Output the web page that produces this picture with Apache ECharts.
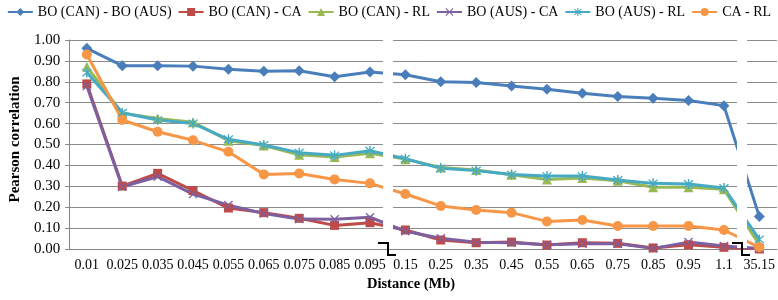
<!DOCTYPE html>
<html>
<head>
<meta charset="utf-8">
<script src="https://cdn.jsdelivr.net/npm/echarts@6/dist/echarts.min.js"></script>
<style>
  body { margin: 0; background: #fff; }
  #chart { width: 778px; height: 300px; }
</style>
</head>
<body>
<div id="chart"></div>
<script>
// x categories (Mb)
var distances = ["0.01", "0.025", "0.035", "0.045", "0.055", "0.065", "0.075", "0.085", "0.095",
  "0.15", "0.25", "0.35", "0.45", "0.55", "0.65", "0.75", "0.85", "0.95", "1.1", "35.15"];

var boCanBoAus = [0.96, 0.877, 0.877, 0.875, 0.86, 0.85, 0.853, 0.824, 0.847,
  0.834, 0.80, 0.797, 0.78, 0.764, 0.745, 0.73, 0.721, 0.71, 0.686, 0.155];
var boCanCa = [0.79, 0.301, 0.362, 0.28, 0.196, 0.174, 0.147, 0.113, 0.126,
  0.091, 0.043, 0.03, 0.033, 0.019, 0.03, 0.027, 0.005, 0.02, 0.008, 0.0];
var boCanRl = [0.872, 0.65, 0.625, 0.607, 0.518, 0.495, 0.451, 0.44, 0.458,
  0.43, 0.39, 0.378, 0.355, 0.333, 0.34, 0.327, 0.295, 0.295, 0.286, 0.02];
var boAusCa = [0.78, 0.298, 0.346, 0.263, 0.21, 0.17, 0.143, 0.142, 0.152,
  0.085, 0.051, 0.032, 0.03, 0.02, 0.025, 0.025, 0.003, 0.033, 0.014, 0.003];
var boAusRl = [0.844, 0.652, 0.617, 0.601, 0.525, 0.498, 0.461, 0.448, 0.47,
  0.432, 0.386, 0.375, 0.356, 0.349, 0.349, 0.33, 0.314, 0.311, 0.292, 0.046];
var caRl = [0.931, 0.617, 0.561, 0.52, 0.465, 0.357, 0.361, 0.333, 0.314,
  0.263, 0.206, 0.187, 0.174, 0.132, 0.139, 0.11, 0.11, 0.11, 0.091, 0.008];

// breaks sit between these category pairs
var breakAfter = [8, 18];

var serif = "Liberation Serif";
// X and asterisk markers
var xPath = "path://M1,0 L5,4 L9,0 L10,1 L6,5 L10,9 L9,10 L5,6 L1,10 L0,9 L4,5 L0,1 Z";
var starPath = "path://M1,0 L5,4 L9,0 L10,1 L6,5 L10,9 L9,10 L5,6 L1,10 L0,9 L4,5 L0,1 Z M4.3,-1 L5.7,-1 L5.7,11 L4.3,11 Z";

function mkSeries(name, data, color, symbol, size) {
  return {
    name: name,
    type: "line",
    data: data,
    symbol: symbol,
    symbolSize: size,
    showAllSymbol: true,
    lineStyle: { width: 3, color: color },
    itemStyle: { color: color },
    emphasis: { disabled: true },
  };
}

var chart = echarts.init(document.getElementById("chart"));
var option = {
  animation: false,
  grid: { left: 59, right: 1, top: 40, bottom: 51 },
  legend: {
    top: 0,
    left: "center",
    itemWidth: 25,
    itemHeight: 10,
    itemGap: 6,
    textStyle: { fontFamily: serif, fontSize: 14, color: "#000" },
  },
  xAxis: {
    type: "category",
    data: distances,
    boundaryGap: true,
    name: "Distance (Mb)",
    nameLocation: "middle",
    nameGap: 28,
    nameTextStyle: {
      fontFamily: serif, fontSize: 14.5, fontWeight: "bold", color: "#000",
      padding: [0, 24, 0, 0],
    },
    axisLine: { lineStyle: { color: "#868686" } },
    axisTick: { length: 5, lineStyle: { color: "#868686" } },
    axisLabel: { fontFamily: serif, fontSize: 14, color: "#000", margin: 9, interval: 0 },
  },
  yAxis: {
    type: "value",
    min: 0,
    max: 1,
    interval: 0.1,
    name: "Pearson correlation",
    nameLocation: "middle",
    nameGap: 44,
    nameTextStyle: {
      fontFamily: serif, fontSize: 15, fontWeight: "bold", color: "#000",
      padding: [0, 0, 0, 10],
    },
    axisLine: { show: true, lineStyle: { color: "#868686" } },
    axisTick: { show: true, length: 4, lineStyle: { color: "#868686" } },
    splitLine: { lineStyle: { color: "#8c8c8c", width: 1 } },
    axisLabel: {
      fontFamily: serif,
      fontSize: 15,
      color: "#000",
      margin: 9,
      formatter: function (v) { return v.toFixed(2); },
    },
  },
  series: [
    mkSeries("BO (CAN) - BO (AUS)", boCanBoAus, "#4a7ebb", "diamond", 11),
    mkSeries("BO (CAN) - CA", boCanCa, "#be4b48", "rect", 9),
    mkSeries("BO (CAN) - RL", boCanRl, "#98b954", "triangle", 10),
    mkSeries("BO (AUS) - CA", boAusCa, "#7d60a0", xPath, 9),
    mkSeries("BO (AUS) - RL", boAusRl, "#46aac5", starPath, 10),
    mkSeries("CA - RL", caRl, "#f79646", "circle", 10),
  ],
};
chart.setOption(option);

// white gaps + break marks at the axis breaks
var yTop = chart.convertToPixel({ yAxisIndex: 0 }, 1);
var yBot = chart.convertToPixel({ yAxisIndex: 0 }, 0);
var gfx = [];
breakAfter.forEach(function (i) {
  var x1 = chart.convertToPixel({ xAxisIndex: 0 }, distances[i]);
  var x2 = chart.convertToPixel({ xAxisIndex: 0 }, distances[i + 1]);
  var mx = Math.round((x1 + x2) / 2);
  gfx.push({
    type: "rect",
    z: 100,
    shape: { x: mx - 5, y: yTop - 3, width: 10, height: yBot - yTop + 2 },
    style: { fill: "#fff" },
  });
  gfx.push({
    type: "polyline",
    z: 101,
    shape: { points: [[mx - 10, yBot - 6], [mx, yBot - 6], [mx, yBot + 6], [mx + 8, yBot + 6]] },
    style: { stroke: "#000", lineWidth: 2, fill: null },
  });
});
chart.setOption({ graphic: gfx });
</script>
</body>
</html>
